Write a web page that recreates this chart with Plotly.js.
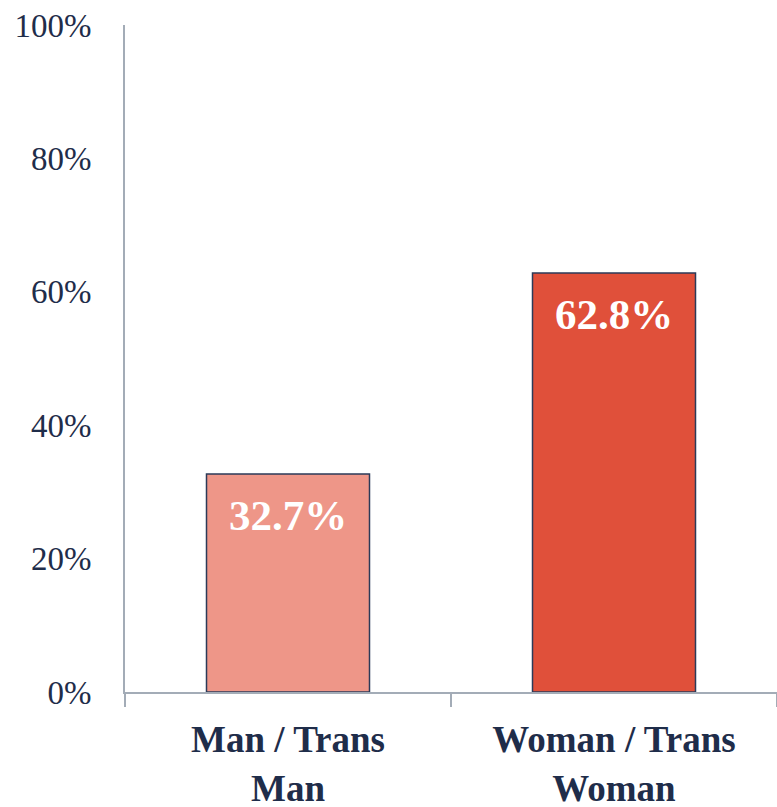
<!DOCTYPE html>
<html>
<head>
<meta charset="utf-8">
<script src="https://cdn.plot.ly/plotly-3.0.1.min.js"></script>
<style>html,body{margin:0;padding:0;background:#fff;}#chart{width:777px;height:807px;}</style>
</head>
<body>
<div id="chart"></div>
<script>
var categories = ["Man / Trans<br>Man", "Woman / Trans<br>Woman"];
var values = [32.7, 62.8];
var labels = ["32.7%", "62.8%"];
var barColors = ["#EE9688", "#E0503A"];
var yTickVals = [0, 20, 40, 60, 80, 100];
var yTickText = ["0%", "20%", "40%", "60%", "80%", "100%"];

var navy = "#1f2d4a";
var axisGray = "#a3acb7";
var serif = "Liberation Serif";

var trace = {
  type: "bar",
  x: categories,
  y: values,
  width: 0.5,
  marker: { color: barColors, line: { color: "#2b3a58", width: 1.5 } },
  hoverinfo: "none"
};

var annotations = values.map(function (v, i) {
  return {
    x: categories[i], y: v, xref: "x", yref: "y",
    text: labels[i], showarrow: false,
    yanchor: "top", yshift: -16,
    font: { family: serif, size: 43, color: "#ffffff", weight: "bold" }
  };
});

var layout = {
  width: 777, height: 807,
  font: { family: serif },
  margin: { l: 125, r: 0, t: 25, b: 115 },
  paper_bgcolor: "#ffffff", plot_bgcolor: "#ffffff",
  showlegend: false,
  bargap: 0.5,
  xaxis: {
    type: "category",
    range: [-0.5, 1.5],
    showline: true, linecolor: axisGray, linewidth: 2,
    ticks: "outside", tickson: "boundaries", ticklen: 13, tickcolor: axisGray, tickwidth: 2,
    showgrid: false, zeroline: false,
    ticklabelstandoff: 14,
    tickfont: { family: serif, size: 37, color: navy, weight: "bold" }
  },
  yaxis: {
    range: [0, 100],
    tickvals: yTickVals, ticktext: yTickText,
    showline: true, linecolor: axisGray, linewidth: 2,
    ticks: "", showgrid: false, zeroline: false,
    ticklabelstandoff: 25,
    tickfont: { family: serif, size: 33, color: navy }
  },
  annotations: annotations
};

Plotly.newPlot("chart", [trace], layout, { displayModeBar: false, staticPlot: true });
</script>
</body>
</html>
